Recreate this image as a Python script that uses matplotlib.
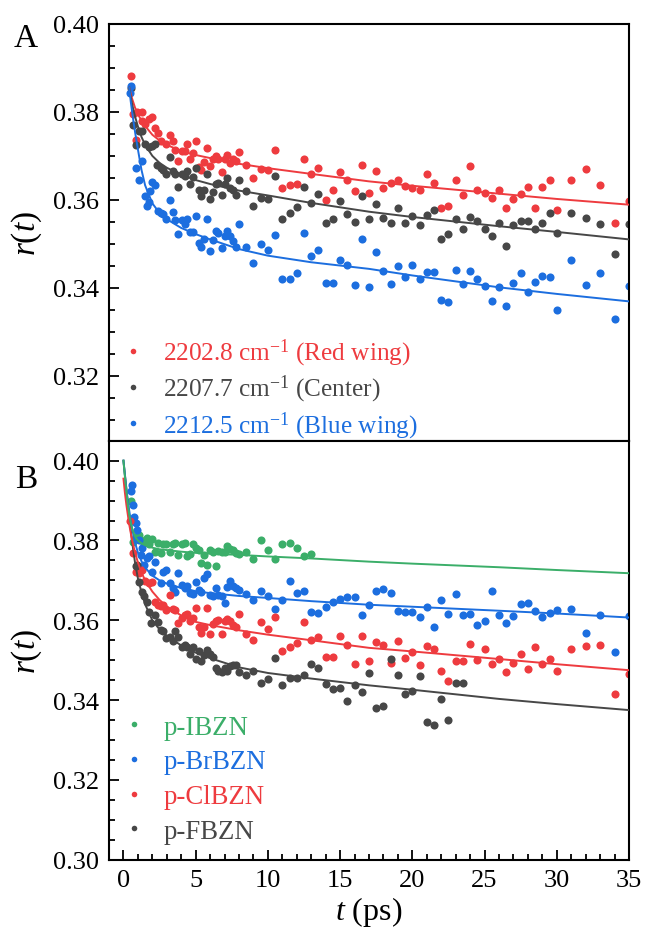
import matplotlib
matplotlib.use("Agg")
import matplotlib.pyplot as plt
from matplotlib.ticker import MultipleLocator, FormatStrFormatter
from matplotlib.lines import Line2D

plt.rcParams['font.family'] = ['Liberation Serif', 'DejaVu Serif']
plt.rcParams['mathtext.fontset'] = 'custom'
plt.rcParams['mathtext.rm'] = 'Liberation Serif'
plt.rcParams['mathtext.it'] = 'Liberation Serif:italic'

# ---------------- colours ----------------
C_RED = '#EE3B3F'
C_GRAY = '#474747'
C_BLUE = '#1C6EDF'
C_GREEN = '#3BAE69'

# ---------------- shared late time grid (ps) ----------------
T_LATE = [9.0, 9.5, 10.0, 10.5, 11.0, 11.5, 12.0, 12.5, 13.0, 13.5, 14.0, 14.5,
          15.0, 15.5, 16.0, 16.5, 17.0, 17.5, 18.0, 18.5, 19.0, 19.5, 20.0, 20.5,
          21.0, 21.5, 22.0, 22.5, 23.0, 23.5, 24.0, 24.5, 25.0, 25.5, 26.0, 26.5,
          27.0, 27.5, 28.0, 28.5, 29.0, 29.5, 30.0, 31.0, 32.0, 33.0, 34.0, 35.0]

# ---------------- Panel A data ----------------
tA_red_early = [0.5, 0.65, 0.95, 1.25, 0.85, 1.3, 1.5, 1.75, 1.95, 2.2, 2.4, 2.6, 2.95,
                3.2, 3.4, 3.6, 3.8, 4.05, 4.25, 4.4, 4.6, 4.8, 5.0, 5.2, 5.4, 5.6, 5.8,
                6.0, 6.2, 6.4, 6.55, 6.8, 7.0, 7.15, 7.35, 7.55, 7.8, 8.0, 8.5]
rA_red_early = [0.3881, 0.3795, 0.3799, 0.3799, 0.3737, 0.3779, 0.3773, 0.3783, 0.3789,
                0.3764, 0.3751, 0.3733, 0.3726, 0.3748, 0.3733, 0.3713, 0.3688, 0.3711,
                0.3712, 0.3728, 0.3693, 0.3707, 0.3733, 0.3675, 0.3669, 0.3686, 0.3717,
                0.3677, 0.3692, 0.3699, 0.3694, 0.3664, 0.3692, 0.3702, 0.3684, 0.3693,
                0.3688, 0.3709, 0.3680]
rA_red_late = [0.3649, 0.3671, 0.3669, 0.3714, 0.3626, 0.3633, 0.3635, 0.3692, 0.3658,
               0.3673, 0.3600, 0.3623, 0.3664, 0.3645, 0.3621, 0.3680, 0.3615,
               0.3665, 0.3628, 0.3638, 0.3645, 0.3631, 0.3626, 0.3622, 0.3658, 0.3638,
               0.3581, 0.3585, 0.3646, 0.3612, 0.3676, 0.3622, 0.3615, 0.3605, 0.3623,
               0.3581, 0.3602, 0.3613, 0.3629, 0.3582, 0.3629, 0.3646, 0.3578,
               0.3646, 0.3670, 0.3633, 0.3547, 0.3598]

tA_gray_early = [0.5, 0.65, 0.85, 1.05, 1.3, 1.5, 1.75, 1.95, 2.15, 2.35, 2.6, 2.75, 2.95,
                 3.2, 3.4, 3.6, 3.8, 4.05, 4.25, 4.4, 4.6, 4.8, 5.0, 5.2, 5.4, 5.6, 5.8,
                 6.0, 6.2, 6.4, 6.55, 6.8, 7.0, 7.15, 7.35, 7.55, 7.8, 8.0, 8.5]
rA_gray_early = [0.3854, 0.3771, 0.3724, 0.3756, 0.3756, 0.3726, 0.3720, 0.3723, 0.3726,
                 0.3680, 0.3673, 0.3669, 0.3658, 0.3698, 0.3665, 0.3658, 0.3630, 0.3658,
                 0.3654, 0.3665, 0.3637, 0.3652, 0.3673, 0.3623, 0.3608, 0.3622, 0.3658,
                 0.3601, 0.3617, 0.3637, 0.3639, 0.3610, 0.3635, 0.3650, 0.3627, 0.3622,
                 0.3612, 0.3645, 0.3619]
rA_gray_late = [0.3586, 0.3605, 0.3602, 0.3654, 0.3557, 0.3569, 0.3583, 0.3630, 0.3592,
                0.3614, 0.3548, 0.3557, 0.3597, 0.3568, 0.3550, 0.3608, 0.3557,
                0.3591, 0.3558, 0.3548, 0.3581, 0.3548, 0.3563, 0.3543, 0.3566, 0.3578,
                0.3510, 0.3522, 0.3557, 0.3534, 0.3561, 0.3551, 0.3533, 0.3517, 0.3547,
                0.3494, 0.3543, 0.3552, 0.3552, 0.3533, 0.3548, 0.3571, 0.3524,
                0.3571, 0.3558, 0.3545, 0.3476, 0.3545]

tA_blue_early = [0.45, 0.55, 0.85, 1.1, 1.25, 1.5, 1.6, 1.75, 1.85, 2.0, 2.2, 2.4, 2.6,
                 2.75, 2.95, 3.2, 3.4, 3.6, 3.8, 4.05, 4.25, 4.4, 4.6, 4.8, 5.0, 5.2,
                 5.4, 5.6, 5.8, 6.0, 6.2, 6.4, 6.55, 6.8, 7.0, 7.15, 7.35, 7.55, 7.8,
                 8.0, 8.5]
rA_blue_early = [0.3843, 0.3858, 0.3673, 0.3646, 0.3688, 0.3608, 0.3587, 0.3595, 0.3620,
                 0.3640, 0.3633, 0.3574, 0.3570, 0.3567, 0.3557, 0.3599, 0.3572, 0.3555,
                 0.3523, 0.3554, 0.3544, 0.3557, 0.3527, 0.3527, 0.3564, 0.3502, 0.3492,
                 0.3512, 0.3557, 0.3483, 0.3508, 0.3529, 0.3525, 0.3491, 0.3517, 0.3530,
                 0.3517, 0.3506, 0.3492, 0.3544, 0.3492]
rA_blue_late = [0.3456, 0.3500, 0.3485, 0.3520, 0.3421, 0.3419, 0.3433, 0.3525, 0.3472,
                0.3487, 0.3411, 0.3411, 0.3464, 0.3452, 0.3406, 0.3510, 0.3402,
                0.3481, 0.3439, 0.3409, 0.3449, 0.3424, 0.3451, 0.3421, 0.3436, 0.3436,
                0.3373, 0.3367, 0.3440, 0.3409, 0.3437, 0.3419, 0.3403, 0.3370, 0.3402,
                0.3358, 0.3410, 0.3433, 0.3390, 0.3413, 0.3426, 0.3424, 0.3349,
                0.3463, 0.3406, 0.3434, 0.3329, 0.3405]

# fitted curves, panel A
tA_fit = [0.4, 0.5, 0.6, 0.7, 0.8, 1.0, 1.25, 1.5, 2.0, 2.5, 3.0, 4.0, 5.0, 6.0,
          8.0, 10.0, 13.0, 17.0, 20.0, 26.0, 30.0, 35.0]
fA_red = [0.3855, 0.3842, 0.3830, 0.3820, 0.3810, 0.3795, 0.3780, 0.3768, 0.3748,
          0.3735, 0.3725, 0.3711, 0.3702, 0.3695, 0.3682, 0.3672, 0.3659, 0.3642,
          0.3632, 0.3614, 0.3602, 0.3589]
fA_gray = [0.3855, 0.3835, 0.3818, 0.3803, 0.3790, 0.3767, 0.3743, 0.3725, 0.3700,
           0.3684, 0.3673, 0.3657, 0.3645, 0.3636, 0.3621, 0.3610, 0.3593, 0.3573,
           0.3561, 0.3540, 0.3527, 0.3510]
fA_blue = [0.3855, 0.3825, 0.3800, 0.3777, 0.3755, 0.3715, 0.3668, 0.3633, 0.3592,
           0.3570, 0.3556, 0.3536, 0.3522, 0.3510, 0.3488, 0.3473, 0.3458, 0.3443,
           0.3428, 0.3401, 0.3386, 0.3369]

labelsA = ['2202.8 cm$^{-1}$ (Red wing)', '2207.7 cm$^{-1}$ (Center)',
           '2212.5 cm$^{-1}$ (Blue wing)']

# ---------------- Panel B data ----------------
tB_green = [0.55, 0.65, 0.65, 0.85, 1.05, 1.2, 1.45, 1.6, 1.8, 1.95, 2.2, 2.4, 2.6, 2.75,
            2.95, 3.2, 3.4, 3.6, 3.8, 4.05, 4.25, 4.4, 4.6, 4.8, 5.0, 5.2, 5.4, 5.6, 5.8,
            6.0, 6.2, 6.4, 6.55, 6.8, 7.0, 7.15, 7.35, 7.55, 7.8, 8.0, 8.5, 9.0, 9.5,
            10.0, 10.5, 11.0, 11.5, 12.0, 12.5, 13.0]
rB_green = [0.3898, 0.3848, 0.3796, 0.3808, 0.3814, 0.3800, 0.3793, 0.3806, 0.3791, 0.3804,
            0.3772, 0.3793, 0.3768, 0.3791, 0.3791, 0.3772, 0.3791, 0.3793, 0.3764, 0.3791,
            0.3793, 0.3760, 0.3766, 0.3791, 0.3782, 0.3777, 0.3743, 0.3764, 0.3739, 0.3777,
            0.3772, 0.3735, 0.3774, 0.3771, 0.3772, 0.3785, 0.3779, 0.3777, 0.3768, 0.3766,
            0.3771, 0.3754, 0.3800, 0.3776, 0.3753, 0.3792, 0.3794, 0.3781, 0.3762, 0.3766]

tB_blue_early = [0.5, 0.6, 0.65, 0.75, 0.85, 0.95, 1.05, 1.2, 1.3, 1.45, 1.6, 1.8, 1.95,
                 2.2, 2.6, 2.75, 2.95, 3.2, 3.4, 3.6, 3.8, 4.05, 4.25, 4.4, 4.6, 4.8,
                 5.0, 5.2, 5.4, 5.6, 5.8, 6.0, 6.2, 6.4, 6.55, 6.8, 7.0, 7.15, 7.35,
                 7.55, 7.8, 8.0, 8.5]
rB_blue_early = [0.3923, 0.3940, 0.3889, 0.3860, 0.3845, 0.3827, 0.3800, 0.3764, 0.3781,
                 0.3739, 0.3756, 0.3760, 0.3722, 0.3747, 0.3693, 0.3722, 0.3726, 0.3693,
                 0.3681, 0.3672, 0.3718, 0.3689, 0.3681, 0.3685, 0.3668, 0.3666, 0.3697,
                 0.3676, 0.3672, 0.3707, 0.3716, 0.3664, 0.3660, 0.3681, 0.3664, 0.3660,
                 0.3643, 0.3683, 0.3699, 0.3686, 0.3682, 0.3676, 0.3665]
rB_blue_late = [0.3650, 0.3674, 0.3662, 0.3629, 0.3651, 0.3699, 0.3668, 0.3674, 0.3620,
                0.3618, 0.3633, 0.3647, 0.3654, 0.3658, 0.3658, 0.3614, 0.3638,
                0.3673, 0.3678, 0.3668, 0.3623, 0.3621, 0.3621, 0.3608, 0.3633, 0.3583,
                0.3652, 0.3615, 0.3667, 0.3613, 0.3617, 0.3589, 0.3599, 0.3673, 0.3613,
                0.3593, 0.3612, 0.3641, 0.3643, 0.3624, 0.3609, 0.3618, 0.3626,
                0.3629, 0.3568, 0.3613, 0.3521, 0.3612]

tB_red_early = [0.45, 0.65, 0.85, 1.05, 1.3, 1.5, 1.75, 1.95, 2.2, 2.4, 2.6, 2.75, 2.95,
                3.2, 3.4, 3.6, 3.8, 4.05, 4.25, 4.4, 4.6, 4.8, 5.0, 5.2, 5.4, 5.6, 5.8,
                6.0, 6.2, 6.4, 6.55, 6.8, 7.0, 7.15, 7.35, 7.55, 7.8, 8.0, 8.5]
rB_red_early = [0.3850, 0.3768, 0.3722, 0.3718, 0.3726, 0.3699, 0.3693, 0.3696, 0.3645,
                0.3639, 0.3635, 0.3639, 0.3626, 0.3664, 0.3629, 0.3626, 0.3593, 0.3605,
                0.3614, 0.3615, 0.3597, 0.3605, 0.3630, 0.3583, 0.3568, 0.3582, 0.3630,
                0.3566, 0.3590, 0.3599, 0.3600, 0.3566, 0.3597, 0.3603, 0.3597, 0.3587,
                0.3584, 0.3615, 0.3566]
rB_red_late = [0.3551, 0.3595, 0.3579, 0.3608, 0.3522, 0.3532, 0.3544, 0.3595, 0.3551,
               0.3558, 0.3509, 0.3508, 0.3561, 0.3539, 0.3491, 0.3561, 0.3498,
               0.3546, 0.3537, 0.3492, 0.3549, 0.3505, 0.3520, 0.3488, 0.3535, 0.3527,
               0.3474, 0.3449, 0.3497, 0.3497, 0.3540, 0.3500, 0.3529, 0.3491, 0.3502,
               0.3470, 0.3492, 0.3516, 0.3479, 0.3533, 0.3491, 0.3503, 0.3474,
               0.3527, 0.3535, 0.3537, 0.3416, 0.3466]

tB_gray = [0.9, 0.95, 1.1, 1.3, 1.45, 1.6, 1.75, 1.9, 2.2, 2.4, 2.6, 2.75, 2.95, 3.2, 3.4,
           3.6, 3.8, 4.05, 4.25, 4.4, 4.6, 4.8, 5.0, 5.2, 5.4, 5.6, 5.8, 6.0, 6.2, 6.4,
           6.55, 6.8, 7.0, 7.15, 7.35, 7.55, 7.8, 8.0, 8.5,
           9.0, 9.5, 10.0, 10.5, 11.0, 11.5, 12.0, 12.5, 13.0, 13.5, 14.0, 14.5, 15.0,
           15.5, 16.0, 16.5, 17.0, 17.5, 18.0, 18.5, 19.0, 19.5, 20.0, 20.5, 21.0, 21.5,
           22.0, 22.5, 23.0, 23.5]
rB_gray = [0.3737, 0.3739, 0.3697, 0.3671, 0.3660, 0.3647, 0.3622, 0.3593, 0.3614, 0.3595,
           0.3576, 0.3572, 0.3555, 0.3557, 0.3548, 0.3574, 0.3557, 0.3532, 0.3539, 0.3534,
           0.3515, 0.3532, 0.3503, 0.3523, 0.3498, 0.3513, 0.3526, 0.3515, 0.3507, 0.3480,
           0.3472, 0.3470, 0.3480, 0.3473, 0.3486, 0.3488, 0.3487, 0.3470, 0.3463,
           0.3473, 0.3444, 0.3452, 0.3505, 0.3438, 0.3455, 0.3455, 0.3462, 0.3491, 0.3480,
           0.3440, 0.3427, 0.3430, 0.3398, 0.3438, 0.3420, 0.3467, 0.3379, 0.3385, 0.3504,
           0.3462, 0.3416, 0.3422, 0.3460, 0.3346, 0.3337, 0.3402, 0.3349, 0.3443, 0.3444]

tB_fit = [0.0, 0.1, 0.2, 0.3, 0.4, 0.5, 0.6, 0.8, 1.0, 1.25, 1.5, 2.0, 2.5, 3.0, 4.0,
          5.0, 6.0, 8.0, 10.0, 13.0, 17.0, 20.0, 26.0, 30.0, 35.0]
fB_green = [0.4000, 0.3960, 0.3925, 0.3890, 0.3865, 0.3845, 0.3830, 0.3810, 0.3800,
            0.3793, 0.3788, 0.3782, 0.3778, 0.3776, 0.3772, 0.3769, 0.3767, 0.3764,
            0.3760, 0.3755, 0.3747, 0.3742, 0.3733, 0.3726, 0.3718]
fB_blue = [0.4000, 0.3965, 0.3930, 0.3900, 0.3875, 0.3850, 0.3830, 0.3795, 0.3770,
           0.3748, 0.3732, 0.3712, 0.3700, 0.3692, 0.3681, 0.3673, 0.3668, 0.3661,
           0.3656, 0.3648, 0.3639, 0.3634, 0.3624, 0.3617, 0.3607]
fB_red = [0.3955, 0.3920, 0.3890, 0.3865, 0.3840, 0.3820, 0.3800, 0.3770, 0.3745,
          0.3720, 0.3700, 0.3672, 0.3651, 0.3635, 0.3612, 0.3596, 0.3588, 0.3575,
          0.3564, 0.3550, 0.3531, 0.3522, 0.3503, 0.3490, 0.3475]
fB_gray = [0.4000, 0.3965, 0.3930, 0.3895, 0.3860, 0.3828, 0.3797, 0.3745, 0.3705,
           0.3670, 0.3640, 0.3600, 0.3577, 0.3561, 0.3537, 0.3519, 0.3505, 0.3482,
           0.3468, 0.3454, 0.3437, 0.3426, 0.3403, 0.3390, 0.3375]

labelsB = ['p-IBZN', 'p-BrBZN', 'p-ClBZN', 'p-FBZN']

# ---------------- figure ----------------
fig = plt.figure(figsize=(6.45, 9.29), dpi=100)
axA = fig.add_axes([0.1690, 0.5245, 0.8062, 0.4486])
axB = fig.add_axes([0.1690, 0.0735, 0.8062, 0.4510])

S = 34
LW = 1.4

def style(ax, show_x):
    for sp in ax.spines.values():
        sp.set_linewidth(1.5)
    ax.set_xlim(-1, 35)
    ax.xaxis.set_major_locator(MultipleLocator(5))
    ax.xaxis.set_minor_locator(MultipleLocator(1))
    ax.yaxis.set_major_locator(MultipleLocator(0.02))
    ax.yaxis.set_minor_locator(MultipleLocator(0.005))
    ax.yaxis.set_major_formatter(FormatStrFormatter('%.2f'))
    ax.tick_params(axis='y', which='both', direction='in', left=True, right=False,
                   labelsize=19, pad=7, width=1.3)
    ax.tick_params(axis='y', which='major', length=7)
    ax.tick_params(axis='y', which='minor', length=4)
    if show_x:
        ax.tick_params(axis='x', which='both', direction='in', bottom=True, top=False,
                       labelsize=19, pad=7, width=1.3)
        ax.tick_params(axis='x', which='major', length=7)
        ax.tick_params(axis='x', which='minor', length=4)
    else:
        ax.tick_params(axis='x', which='both', bottom=False, top=False,
                       labelbottom=False)
    ax.set_ylabel('$r(t)$', fontsize=24)
    ax.yaxis.set_label_coords(-0.125, 0.5)

# Panel A
for te, re, rl, fit, c in [(tA_red_early, rA_red_early, rA_red_late, fA_red, C_RED),
                           (tA_gray_early, rA_gray_early, rA_gray_late, fA_gray, C_GRAY),
                           (tA_blue_early, rA_blue_early, rA_blue_late, fA_blue, C_BLUE)]:
    axA.scatter(te + T_LATE, re + rl, s=S, color=c, linewidths=0, zorder=2)
    axA.plot(tA_fit, fit, color=c, lw=LW, zorder=3)
axA.set_ylim(0.3052, 0.40)
style(axA, False)

# Panel B
axB.scatter(tB_green, rB_green, s=S, color=C_GREEN, linewidths=0, zorder=2)
axB.scatter(tB_blue_early + T_LATE, rB_blue_early + rB_blue_late, s=S, color=C_BLUE,
            linewidths=0, zorder=2)
axB.scatter(tB_red_early + T_LATE, rB_red_early + rB_red_late, s=S, color=C_RED,
            linewidths=0, zorder=2)
axB.scatter(tB_gray, rB_gray, s=S, color=C_GRAY, linewidths=0, zorder=2)
for fit, c in [(fB_gray, C_GRAY), (fB_red, C_RED), (fB_blue, C_BLUE), (fB_green, C_GREEN)]:
    axB.plot(tB_fit, fit, color=c, lw=LW, zorder=3)
axB.set_ylim(0.30, 0.405)
style(axB, True)
axB.set_xlabel('$t$ (ps)', fontsize=23, labelpad=2)

# legends
def make_legend(ax, labels, colors, anchor, spacing, fs, tpad):
    handles = [Line2D([], [], ls='none', marker='o', ms=4.0, color=c, mew=0)
               for c in colors]
    leg = ax.legend(handles, labels, loc='lower left', bbox_to_anchor=anchor,
                    frameon=False, fontsize=fs, handlelength=0.8,
                    handletextpad=tpad, labelspacing=spacing, borderpad=0,
                    borderaxespad=0)
    for txt, c in zip(leg.get_texts(), colors):
        txt.set_color(c)

make_legend(axA, labelsA, [C_RED, C_GRAY, C_BLUE], (0.027, 0.0), 0.2, 18.2, 0.78)
make_legend(axB, labelsB, [C_GREEN, C_BLUE, C_RED, C_GRAY], (0.028, 0.038), 0.36, 19.3, 0.7)

fig.text(26 / 645, 1 - 39 / 929, 'A', fontsize=24, ha='center', va='center')
fig.text(26 / 645, 1 - 480 / 929, 'B', fontsize=24, ha='center', va='center')

fig.savefig('out.png', dpi=100)
